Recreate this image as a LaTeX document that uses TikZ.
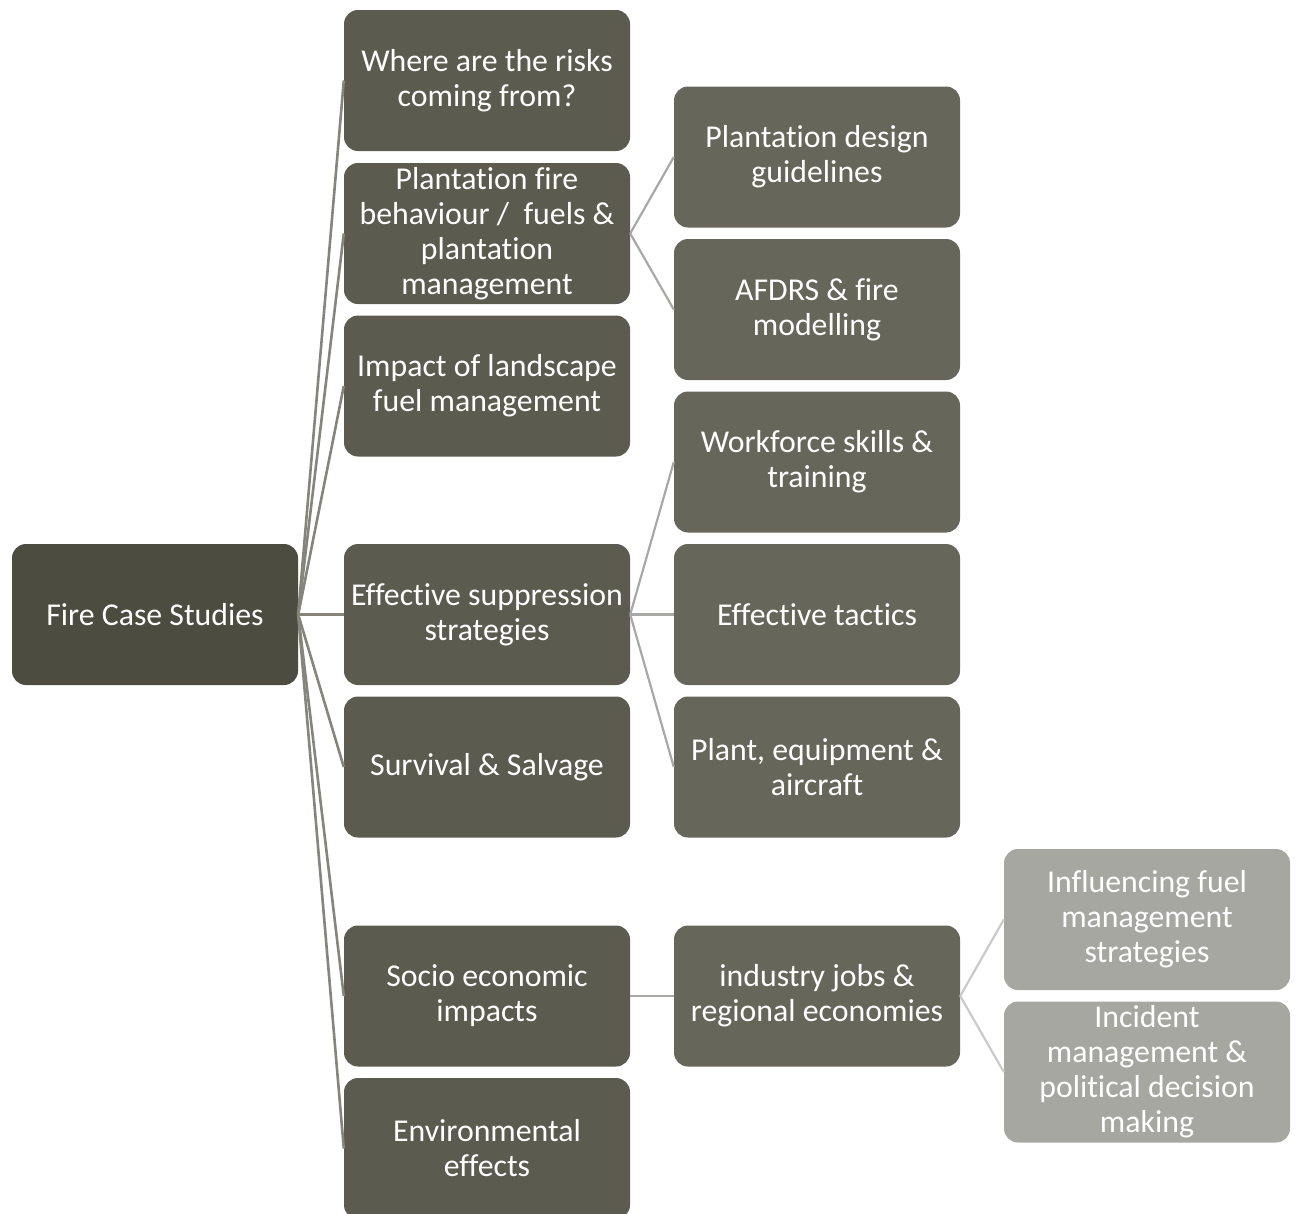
\documentclass[tikz,border=0pt]{standalone}
\usepackage{fontspec}
\setmainfont{Carlito}[Ligatures={NoCommon}]
\definecolor{rootc}{HTML}{4C4C40}
\definecolor{lvA}{HTML}{5C5B4F}
\definecolor{lvB}{HTML}{66665A}
\definecolor{lvC}{HTML}{A7A7A1}
\definecolor{lnA}{HTML}{85857B}
\definecolor{lnB}{HTML}{A8A8A4}
\definecolor{lnC}{HTML}{CACAC8}
\tikzset{
  box/.style={rectangle, rounded corners=14pt, minimum width=286pt, minimum height=141pt,
    text=white, align=center, inner sep=2pt,
    font=\fontsize{31.8}{35}\selectfont},
  rootbox/.style={box, fill=rootc},
  boxA/.style={box, fill=lvA},
  boxB/.style={box, fill=lvB},
  boxC/.style={box, fill=lvC},
  linkA/.style={draw=lnA, line width=2.6pt},
  linkB/.style={draw=lnB, line width=2.2pt},
  linkC/.style={draw=lnC, line width=2.2pt},
}
\begin{document}
\begin{tikzpicture}[x=1pt,y=-1pt]
\useasboundingbox (0,0) rectangle (1298,1213);
\clip (0,0) rectangle (1298,1213);
\node[rootbox] (root) at (155,614.5) {Fire Case Studies};
\node[boxA] (a1) at (487,80.5) {Where are the risks\\coming from?};
\node[boxA] (a2) at (487,233.5) {Plantation fire\\behaviour /\ \ fuels \&\\plantation\\management};
\node[boxA] (a3) at (487,386) {Impact of landscape\\fuel management};
\node[boxA] (a4) at (487,614.5) {Effective suppression\\strategies};
\node[boxA] (a5) at (487,767) {Survival \& Salvage};
\node[boxA] (a6) at (487,996) {Socio economic\\impacts};
\node[boxA] (a7) at (487,1148.5) {Environmental\\effects};
\node[boxB] (b1) at (817,157) {Plantation design\\guidelines};
\node[boxB] (b2) at (817,309.5) {AFDRS \& fire\\modelling};
\node[boxB] (b3) at (817,462) {Workforce skills \&\\training};
\node[boxB] (b4) at (817,614.5) {Effective tactics};
\node[boxB] (b5) at (817,767) {Plant, equipment \&\\aircraft};
\node[boxB] (b6) at (817,996) {industry jobs \&\\regional economies};
\node[boxC] (c1) at (1147,919.5) {Influencing fuel\\management\\strategies};
\node[boxC] (c2) at (1147,1072) {Incident\\management \&\\political decision\\making};
\foreach \t in {a1,a2,a3,a4,a5,a6,a7}
  \draw[linkA] (root.east) -- (\t.west);
\draw[linkB] (a2.east) -- (b1.west);
\draw[linkB] (a2.east) -- (b2.west);
\draw[linkB] (a4.east) -- (b3.west);
\draw[linkB] (a4.east) -- (b4.west);
\draw[linkB] (a4.east) -- (b5.west);
\draw[linkB] (a6.east) -- (b6.west);
\draw[linkC] (b6.east) -- (c1.west);
\draw[linkC] (b6.east) -- (c2.west);
\end{tikzpicture}
\end{document}
